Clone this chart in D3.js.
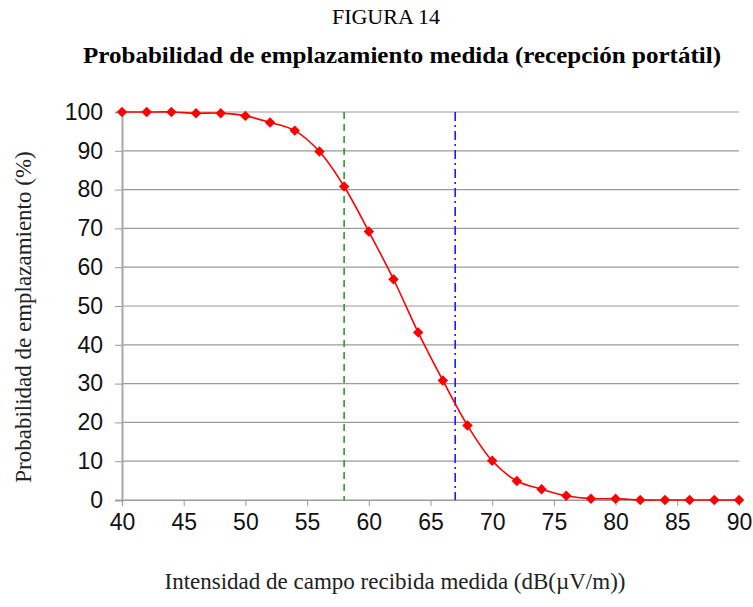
<!DOCTYPE html>
<html>
<head>
<meta charset="utf-8">
<script src="https://cdn.jsdelivr.net/npm/d3@7"></script>
<style>
  body { margin: 0; background: #fff; }
</style>
</head>
<body>
<div id="chart"></div>
<script>
// field strength (dB(uV/m)) and measured location probability (%)
const intensidad = [40, 42, 44, 46, 48, 50, 52, 54, 56, 58, 60, 62, 64, 66, 68, 70, 72, 74, 76, 78, 80, 82, 84, 86, 88, 90];
const probabilidad = [100, 100, 100, 99.7, 99.7, 99.0, 97.3, 95.2, 89.8, 80.8, 69.2, 56.9, 43.2, 30.8, 19.2, 10.1, 4.9, 2.8, 1.1, 0.35, 0.35, 0, 0, 0, 0, 0];
const xTicks = [40, 45, 50, 55, 60, 65, 70, 75, 80, 85, 90];
const yTicks = [0, 10, 20, 30, 40, 50, 60, 70, 80, 90, 100];
const lineaVerde = 58;
const lineaAzul = 67;

const width = 753;
const height = 607;
const margin = { left: 122, right: 14, top: 112, bottom: 107 };

const svg = d3.select("#chart")
  .append("svg")
  .attr("width", width)
  .attr("height", height);

const x = d3.scaleLinear().domain([40, 90]).range([margin.left, width - margin.right]);
const y = d3.scaleLinear().domain([0, 100]).range([height - margin.bottom, margin.top]);

// titles
svg.append("text")
  .attr("x", 386).attr("y", 24)
  .attr("text-anchor", "middle")
  .style("font-family", "Liberation Serif, Times New Roman, serif")
  .style("font-size", "22px")
  .text("FIGURA 14");

svg.append("text")
  .attr("x", 402).attr("y", 63)
  .attr("text-anchor", "middle")
  .style("font-family", "Liberation Serif, Times New Roman, serif")
  .style("font-size", "24px")
  .style("font-weight", "bold")
  .attr("textLength", 638)
  .attr("lengthAdjust", "spacingAndGlyphs")
  .text("Probabilidad de emplazamiento medida (recepción portátil)");

// horizontal grid
svg.append("g")
  .selectAll("line")
  .data(yTicks)
  .enter().append("line")
  .attr("x1", x(40)).attr("x2", x(90))
  .attr("y1", d => y(d)).attr("y2", d => y(d))
  .style("stroke", "#9a9a9a")
  .style("stroke-width", 1.2);

// y axis
const yAxis = svg.append("g")
  .attr("transform", `translate(${x(40)},0)`)
  .call(d3.axisLeft(y).tickValues(yTicks).tickSize(7).tickPadding(12));
yAxis.select(".domain").style("stroke", "#a8a8a8").style("stroke-width", 2);
yAxis.selectAll(".tick line").style("stroke", "#9a9a9a");
yAxis.selectAll("text")
  .style("font-family", "Liberation Sans, Arial, sans-serif")
  .style("font-size", "23px")
  .style("fill", "#111");

// x axis
const xAxis = svg.append("g")
  .attr("transform", `translate(0,${y(0)})`)
  .call(d3.axisBottom(x).tickValues(xTicks).tickSize(6).tickPadding(8));
xAxis.select(".domain").style("stroke", "#9a9a9a").style("stroke-width", 1.2);
xAxis.selectAll(".tick line").style("stroke", "#9a9a9a");
xAxis.selectAll("text")
  .style("font-family", "Liberation Sans, Arial, sans-serif")
  .style("font-size", "23px")
  .style("fill", "#111");

// reference lines
svg.append("line")
  .attr("x1", x(lineaVerde)).attr("x2", x(lineaVerde))
  .attr("y1", y(100)).attr("y2", y(0))
  .style("stroke", "#2e9a2e")
  .style("stroke-width", 1.6)
  .style("stroke-dasharray", "7,5");

svg.append("line")
  .attr("x1", x(lineaAzul)).attr("x2", x(lineaAzul))
  .attr("y1", y(100)).attr("y2", y(0))
  .style("stroke", "#1a1aff")
  .style("stroke-width", 1.6)
  .style("stroke-dasharray", "9,4,2,4");

// curve
const puntos = intensidad.map((d, i) => ({ x: d, y: probabilidad[i] }));
const linea = d3.line()
  .x(d => x(d.x))
  .y(d => y(d.y))
  .curve(d3.curveCatmullRom.alpha(0.5));

svg.append("path")
  .datum(puntos)
  .attr("d", linea)
  .style("fill", "none")
  .style("stroke", "#ff0000")
  .style("stroke-width", 1.6);

svg.append("g")
  .selectAll("path")
  .data(puntos)
  .enter().append("path")
  .attr("transform", d => `translate(${x(d.x)},${y(d.y)})`)
  .attr("d", d3.symbol().type(d3.symbolDiamond2).size(70))
  .style("fill", "#ff0000");

// axis titles
svg.append("text")
  .attr("x", 395).attr("y", 589)
  .attr("text-anchor", "middle")
  .style("font-family", "Liberation Serif, Times New Roman, serif")
  .style("font-size", "23px")
  .style("fill", "#222")
  .text("Intensidad de campo recibida medida (dB(\u00b5V/m))");

svg.append("text")
  .attr("transform", "translate(31,317) rotate(-90)")
  .attr("text-anchor", "middle")
  .style("font-family", "Liberation Serif, Times New Roman, serif")
  .style("font-size", "23px")
  .style("fill", "#222")
  .text("Probabilidad de emplazamiento (%)");
</script>
</body>
</html>
